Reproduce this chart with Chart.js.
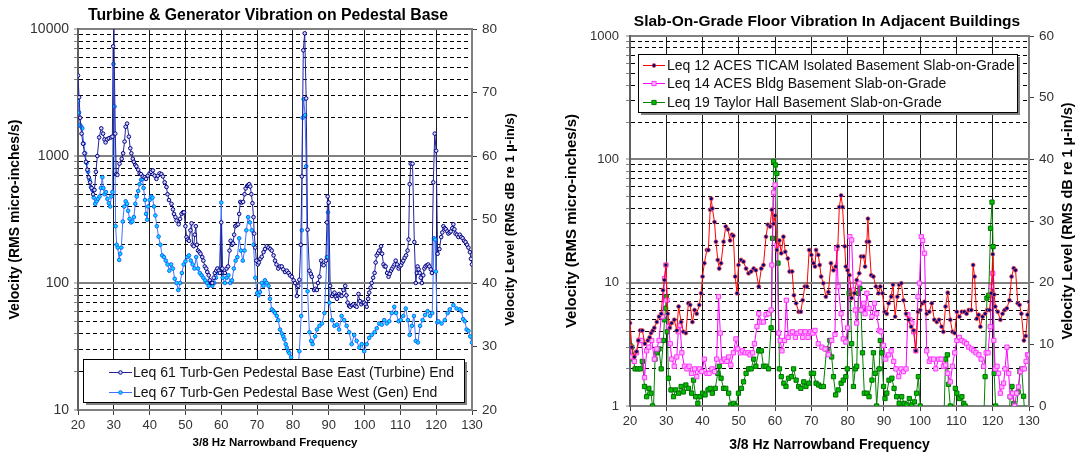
<!DOCTYPE html>
<html lang="en">
<head>
  <meta charset="UTF-8">
  <title>Pedestal and Slab Vibration Spectra</title>
  <script src="https://cdn.jsdelivr.net/npm/chart.js@4.4.1/dist/chart.umd.min.js"></script>
  <style>
    html, body { margin: 0; padding: 0; background: #fff; }
    #wrap { position: relative; width: 1075px; height: 452px; overflow: hidden; }
    canvas { position: absolute; top: 0; }
    #leftChart { left: 0; }
    #rightChart { left: 537px; }
  </style>
</head>
<body>
  <div id="wrap">
    <canvas id="leftChart" width="537" height="452"></canvas>
    <canvas id="rightChart" width="538" height="452"></canvas>
  </div>
<script>
// tick values
const freqTicks = [20, 30, 40, 50, 60, 70, 80, 90, 100, 110, 120, 130];
const leftDbTicks = [20, 30, 40, 50, 60, 70, 80];
const rightDbTicks = [0, 10, 20, 30, 40, 50, 60];

// [frequency Hz, velocity micro-in/s]
const east = [
  [20.0, 4300], [20.3, 2900], [20.6, 2000], [21.0, 1500], [21.4, 1250], [21.8, 1050], [22.2, 900], [22.6, 780],
  [23.0, 680], [23.4, 620], [23.8, 560], [24.2, 500], [24.6, 540], [25.0, 750], [25.4, 1000], [25.9, 1400],
  [26.5, 1650], [27.0, 1500], [27.4, 1350], [27.7, 1280], [28.1, 1350], [28.6, 1380], [29.2, 1400], [29.6, 1420],
  [29.8, 7300], [30.0, 11000], [30.4, 1500], [30.7, 720], [31.0, 710], [31.6, 870], [32.2, 950], [32.6, 1050],
  [33.0, 1300], [33.3, 1700], [33.7, 1800], [34.2, 1420], [34.6, 1150], [34.9, 1050], [35.3, 950], [35.6, 900],
  [36.0, 850], [36.3, 830], [36.8, 780], [37.2, 730], [37.6, 720], [38.1, 690], [38.6, 680], [39.0, 660],
  [39.5, 700], [40.0, 730], [40.4, 750], [40.9, 770], [41.4, 700], [41.9, 660], [42.3, 700], [42.8, 730],
  [43.3, 720], [43.7, 690], [44.2, 620], [44.7, 570], [45.0, 500], [45.4, 450], [46.1, 420], [46.5, 380],
  [46.8, 350], [47.2, 330], [47.5, 310], [48.1, 290], [48.5, 320], [48.9, 350], [49.3, 360], [49.6, 360],
  [50.0, 280], [50.3, 230], [50.6, 220], [51.0, 215], [51.4, 260], [51.7, 295], [52.0, 200], [52.3, 195],
  [52.6, 240], [52.9, 280], [53.2, 200], [53.5, 180], [53.9, 175], [54.2, 170], [54.7, 160], [55.0, 150],
  [55.4, 135], [55.8, 130], [56.1, 122], [56.5, 115], [56.8, 105], [57.2, 100], [57.5, 100], [57.9, 110],
  [58.2, 120], [58.6, 125], [58.9, 130], [59.3, 125], [59.6, 120], [60.0, 300], [60.3, 130], [60.6, 120],
  [61.0, 120], [61.5, 130], [61.9, 135], [62.3, 180], [62.6, 215], [63.0, 200], [63.3, 205], [63.6, 240],
  [63.9, 280], [64.3, 285], [64.7, 290], [65.0, 350], [65.3, 435], [65.7, 430], [66.1, 435], [66.5, 500],
  [66.8, 555], [67.2, 580], [67.5, 590], [67.8, 600], [68.1, 575], [68.4, 500], [68.7, 425], [69.0, 330],
  [69.2, 245], [69.5, 190], [69.8, 150], [70.2, 140], [70.5, 145], [70.9, 155], [71.3, 161], [71.8, 175],
  [72.2, 185], [72.7, 195], [73.2, 190], [73.7, 185], [74.1, 180], [74.6, 165], [75.0, 150], [75.4, 140],
  [75.9, 130], [76.4, 135], [76.9, 135], [77.3, 128], [77.8, 122], [78.3, 125], [78.8, 120], [79.2, 115],
  [79.7, 112], [80.2, 105], [80.6, 100], [81.1, 79], [81.5, 95], [81.8, 106], [82.2, 200], [82.5, 690],
  [82.9, 6800], [83.3, 9250], [83.7, 2840], [84.1, 263], [84.6, 125], [85.0, 118], [85.3, 112], [85.9, 88],
  [86.3, 90], [86.7, 88], [87.0, 100], [87.4, 112], [87.9, 150], [88.2, 140], [88.6, 138], [89.2, 150],
  [89.5, 300], [89.7, 480], [90.0, 430], [90.4, 95], [90.9, 79], [91.2, 82], [91.6, 84], [92.0, 78],
  [92.3, 75], [92.6, 80], [92.9, 82], [93.3, 80], [93.6, 79], [94.1, 88], [94.6, 95], [94.9, 80],
  [95.3, 70], [95.7, 66], [96.0, 65], [96.5, 67], [96.9, 68], [97.4, 66], [97.8, 65], [98.3, 82],
  [98.7, 72], [99.1, 68], [99.5, 70], [99.9, 70], [100.3, 68], [100.6, 65], [101.0, 75], [101.3, 84],
  [101.7, 92], [102.0, 100], [102.4, 110], [102.8, 120], [103.1, 145], [103.4, 165], [103.8, 172], [104.1, 180],
  [104.6, 195], [104.9, 170], [105.3, 140], [105.6, 135], [105.9, 135], [106.3, 120], [106.7, 112], [107.0, 118],
  [107.4, 125], [107.7, 130], [108.1, 135], [108.4, 140], [108.7, 150], [109.1, 140], [109.5, 130], [109.8, 135],
  [110.2, 138], [110.5, 145], [110.8, 150], [111.2, 158], [111.6, 165], [112.0, 180], [112.3, 220], [112.6, 600],
  [112.9, 870], [113.4, 870], [113.9, 210], [114.3, 100], [114.6, 120], [114.8, 135], [115.1, 128], [115.4, 120],
  [115.7, 110], [116.0, 100], [116.4, 115], [116.7, 130], [117.0, 135], [117.4, 138], [117.8, 140], [118.1, 135],
  [118.5, 128], [118.8, 120], [119.2, 620], [119.6, 1500], [120.0, 1100], [120.4, 170], [120.9, 185], [121.4, 230],
  [121.7, 250], [122.0, 280], [122.4, 270], [122.7, 265], [123.1, 255], [123.4, 245], [123.8, 250], [124.1, 255],
  [124.5, 270], [124.8, 290], [125.1, 265], [125.4, 245], [125.8, 240], [126.2, 230], [126.6, 240], [127.0, 230],
  [127.4, 225], [127.8, 215], [128.2, 210], [128.6, 200], [129.0, 190], [129.4, 175], [129.7, 155], [130.0, 140]
];

const west = [
  [20.0, 2700], [20.3, 2200], [20.6, 1750], [20.9, 1700], [21.2, 1650], [21.6, 1250], [22.0, 1050], [22.4, 880],
  [22.8, 750], [23.2, 650], [23.6, 570], [24.0, 540], [24.4, 470], [24.8, 420], [25.2, 440], [25.6, 460],
  [26.0, 480], [26.4, 560], [26.8, 680], [27.1, 560], [27.4, 500], [27.8, 520], [28.2, 460], [28.6, 425],
  [29.0, 400], [29.3, 480], [29.6, 520], [29.9, 5300], [30.2, 2450], [30.5, 280], [30.8, 200], [31.1, 190],
  [31.5, 152], [31.8, 170], [32.1, 190], [32.5, 305], [32.9, 400], [33.3, 440], [33.7, 420], [34.0, 370],
  [34.4, 320], [34.8, 300], [35.2, 305], [35.6, 330], [36.0, 420], [36.4, 480], [36.8, 530], [37.2, 600],
  [37.6, 650], [38.0, 660], [38.3, 560], [38.7, 450], [39.0, 350], [39.3, 315], [39.6, 400], [40.0, 450],
  [40.4, 480], [40.8, 470], [41.2, 400], [41.6, 340], [42.0, 280], [42.5, 232], [43.0, 200], [43.5, 165],
  [44.0, 160], [44.5, 150], [45.0, 140], [45.5, 125], [46.0, 140], [46.5, 130], [47.0, 108], [47.5, 100],
  [48.0, 88], [48.5, 100], [49.0, 120], [49.5, 140], [50.0, 148], [50.5, 160], [51.0, 165], [51.5, 150],
  [52.0, 140], [52.5, 130], [53.0, 160], [53.5, 130], [54.0, 120], [54.5, 115], [55.0, 110], [55.5, 105],
  [56.0, 100], [56.5, 95], [57.0, 100], [57.5, 95], [58.0, 100], [58.5, 110], [59.0, 120], [59.5, 130],
  [60.0, 430], [60.4, 110], [61.0, 100], [61.5, 110], [62.0, 115], [62.5, 100], [63.0, 105], [63.5, 130],
  [64.0, 150], [64.5, 160], [65.0, 225], [65.5, 180], [66.0, 150], [66.5, 180], [67.0, 260], [67.5, 330],
  [68.0, 300], [68.5, 260], [69.0, 200], [69.5, 110], [70.0, 83], [70.4, 80], [70.8, 85], [71.3, 100],
  [71.8, 95], [72.2, 105], [72.7, 100], [73.2, 95], [73.6, 75], [74.1, 62], [74.6, 60], [75.0, 58],
  [75.5, 55], [75.9, 51], [76.4, 43], [76.9, 40], [77.3, 38], [77.6, 36], [78.0, 33], [78.3, 31],
  [78.7, 29], [79.0, 28], [79.5, 26], [80.0, 22], [80.5, 19], [81.0, 18], [81.5, 22], [81.8, 29],
  [82.3, 55], [82.5, 260], [82.7, 2000], [83.0, 2800], [83.4, 2100], [83.7, 830], [84.1, 86], [84.6, 41],
  [85.1, 35], [85.5, 33], [86.2, 38], [86.7, 43], [87.4, 46], [88.1, 48], [88.8, 58], [89.5, 160],
  [89.8, 360], [90.2, 70], [90.9, 51], [91.6, 46], [92.3, 47], [92.9, 43], [93.6, 55], [94.3, 51],
  [95.0, 46], [95.7, 41], [96.4, 33], [97.1, 39], [97.8, 35], [98.5, 31], [99.2, 33], [99.9, 29],
  [100.6, 33], [101.3, 37], [102.0, 39], [102.8, 41], [103.4, 44], [104.1, 48], [104.8, 47], [105.5, 51],
  [106.2, 48], [106.9, 50], [107.6, 58], [108.3, 65], [108.8, 58], [109.5, 50], [110.1, 51], [110.8, 55],
  [111.5, 63], [112.1, 51], [112.6, 39], [113.2, 46], [113.8, 55], [114.3, 35], [114.9, 34], [115.5, 46],
  [116.2, 51], [116.9, 56], [117.6, 60], [118.3, 55], [118.9, 58], [119.4, 225], [119.7, 220], [119.9, 123],
  [120.3, 49], [120.6, 50], [121.5, 48], [122.4, 51], [123.2, 58], [123.8, 62], [124.8, 67], [125.7, 63],
  [126.6, 62], [127.1, 60], [127.5, 52], [128.0, 50], [128.5, 43], [129.0, 42], [129.5, 38], [130.0, 34]
];

const ticam = [
  [20.0, 4.7], [20.5, 3.0], [21.2, 2.5], [21.8, 2.76], [22.3, 3.4], [22.8, 4.1], [23.4, 4.1], [24.1, 3.2],
  [24.9, 3.4], [25.4, 3.6], [25.8, 3.9], [26.3, 4.1], [26.7, 4.3], [27.4, 4.8], [28.0, 5.3], [28.6, 5.6],
  [29.1, 8.7], [29.5, 10.5], [29.9, 13.9], [30.4, 5.6], [31.0, 4.3], [31.5, 4.7], [32.2, 5.0], [32.9, 4.1],
  [33.4, 6.4], [34.1, 4.8], [34.7, 4.0], [35.4, 3.9], [36.1, 6.8], [36.6, 6.6], [37.2, 4.8], [37.8, 6.0],
  [38.4, 5.6], [39.1, 6.6], [39.6, 8.2], [40.0, 11.2], [40.5, 14.4], [41.2, 18.4], [41.6, 18.4], [42.1, 39],
  [42.4, 48], [42.7, 40], [43.3, 31], [43.7, 21.5], [44.2, 15.3], [44.6, 13.0], [45.1, 14.4], [45.8, 21.5],
  [46.4, 28.5], [47.0, 27], [47.6, 22], [48.1, 24.5], [48.5, 24], [49.0, 11.2], [49.5, 8.2], [49.9, 13.9],
  [50.6, 15.3], [51.3, 14.8], [52.0, 13.0], [52.7, 11.9], [53.4, 12.3], [54.1, 13.0], [54.7, 12.6], [55.5, 9.3],
  [56.2, 13.0], [56.8, 13.9], [57.5, 23.6], [58.0, 29.5], [58.6, 28.5], [59.1, 39], [59.6, 30], [60.0, 35],
  [60.5, 18.4], [61.2, 22], [61.7, 17.3], [62.3, 23.6], [62.8, 17.8], [63.5, 15.7], [64.0, 12.3], [64.7, 12.3],
  [65.2, 7.9], [65.8, 6.8], [66.5, 5.8], [67.1, 5.8], [67.6, 7.2], [68.2, 9.3], [68.8, 9.3], [69.4, 18.4],
  [70.0, 16.8], [70.6, 14.4], [71.0, 13.5], [71.3, 18.4], [71.9, 16.8], [72.3, 13.9], [72.7, 11.2], [73.3, 9.9],
  [74.0, 7.7], [74.7, 8.4], [75.4, 14.4], [76.1, 12.6], [76.7, 13.5], [77.3, 19.7], [77.7, 41], [78.2, 51],
  [78.6, 41], [79.2, 19.7], [79.5, 13.5], [80.0, 12.6], [80.5, 11.5], [81.1, 7.5], [81.9, 8.2], [82.5, 10.5],
  [83.2, 11.9], [83.7, 16.3], [84.4, 16.3], [84.8, 13.5], [85.3, 21.5], [85.6, 33], [85.9, 21.5], [86.5, 11.5],
  [87.1, 11.2], [87.8, 9.3], [88.5, 8.2], [89.0, 9.3], [89.6, 8.2], [90.2, 5.8], [90.8, 5.6], [91.3, 6.8],
  [92.0, 7.7], [92.5, 9.6], [93.1, 5.3], [93.7, 7.7], [94.2, 9.6], [94.8, 9.9], [95.4, 7.2], [96.1, 5.6],
  [96.8, 5.0], [97.5, 4.4], [98.2, 4.1], [98.8, 2.8], [99.4, 5.8], [100.0, 6.0], [100.6, 6.8], [101.2, 7.0],
  [101.8, 5.6], [102.5, 5.8], [103.2, 6.8], [103.9, 5.0], [104.6, 4.8], [105.2, 5.0], [105.9, 4.4], [106.4, 4.0],
  [107.0, 6.4], [107.6, 8.3], [108.3, 5.0], [108.9, 4.0], [109.5, 3.9], [110.1, 5.8], [110.8, 5.3], [111.5, 5.8],
  [112.2, 5.8], [112.8, 5.6], [113.4, 6.0], [114.1, 6.0], [114.6, 13.9], [115.0, 11.2], [115.6, 5.1], [116.1, 5.5],
  [116.6, 4.4], [117.2, 5.3], [117.9, 5.6], [118.5, 6.0], [119.1, 6.0], [119.6, 8.2], [120.0, 17], [120.4, 8.0],
  [120.7, 6.4], [121.4, 5.8], [122.1, 5.0], [122.7, 5.6], [123.3, 6.0], [123.9, 6.2], [124.6, 7.2], [125.2, 11.2],
  [125.8, 13.1], [126.3, 12.6], [126.9, 6.8], [127.4, 6.6], [127.9, 5.6], [128.6, 3.4], [129.1, 3.7], [129.6, 5.5],
  [130.0, 7.0]
];

const acesBldg = [
  [20.0, 3.0], [20.5, 2.5], [21.2, 2.3], [21.8, 2.7], [22.5, 3.4], [23.2, 3.4], [24.0, 1.7], [24.6, 2.8],
  [25.2, 3.0], [26.0, 3.4], [26.7, 2.4], [27.4, 2.9], [28.0, 3.4], [28.6, 5.3], [29.0, 5.3], [29.5, 10.8],
  [29.9, 13.9], [30.2, 7.2], [30.6, 4.4], [31.1, 3.2], [31.5, 2.4], [32.2, 2.1], [32.9, 2.5], [33.3, 4.0],
  [33.8, 4.5], [34.3, 2.7], [35.0, 2.1], [35.7, 2.0], [36.3, 2.1], [37.0, 1.84], [37.8, 2.0], [38.4, 1.73],
  [39.1, 2.0], [39.8, 1.9], [40.5, 2.4], [41.2, 1.84], [41.8, 1.84], [42.6, 2.0], [43.3, 1.9], [43.9, 2.4],
  [44.4, 7.7], [44.9, 3.9], [45.3, 2.3], [46.0, 2.4], [46.7, 2.3], [47.2, 2.5], [47.8, 2.15], [48.5, 2.7],
  [49.2, 3.5], [49.7, 2.9], [50.4, 2.7], [51.0, 2.8], [51.8, 2.7], [52.5, 2.7], [53.1, 2.6], [53.8, 2.7],
  [54.3, 3.2], [55.0, 4.4], [55.5, 5.6], [56.2, 4.8], [56.8, 4.8], [57.5, 5.5], [58.2, 5.6], [58.9, 6.0],
  [59.1, 13.9], [59.6, 54], [60.0, 62], [60.5, 20], [61.0, 3.9], [61.4, 3.4], [61.9, 2.8], [62.6, 3.4],
  [63.1, 7.2], [63.6, 3.6], [64.2, 3.9], [64.8, 4.0], [65.6, 3.6], [66.3, 3.9], [67.0, 4.0], [67.6, 3.6],
  [68.3, 4.0], [69.1, 3.6], [69.7, 4.0], [70.4, 3.9], [71.0, 4.1], [71.9, 3.2], [72.9, 3.0], [73.8, 2.9],
  [74.7, 2.6], [75.6, 3.4], [76.5, 3.8], [77.0, 19], [77.4, 9.3], [78.2, 5.6], [78.8, 3.5], [79.5, 3.3],
  [80.0, 4.3], [80.6, 23.6], [81.1, 22.2], [81.6, 8.7], [82.1, 6.0], [82.5, 4.7], [83.2, 9.9], [83.7, 6.0],
  [84.4, 6.8], [84.8, 5.6], [85.3, 8.2], [85.9, 6.2], [86.7, 5.3], [87.4, 6.8], [88.0, 5.6], [88.7, 4.1],
  [89.2, 4.0], [89.9, 3.1], [90.5, 2.4], [91.3, 2.6], [92.0, 2.8], [92.7, 2.3], [93.3, 2.0], [94.1, 1.73],
  [94.7, 2.0], [95.4, 1.9], [96.1, 2.0], [96.6, 5.5], [97.2, 5.0], [97.7, 4.7], [98.2, 4.0], [98.8, 2.8],
  [99.4, 7.7], [99.8, 9.9], [100.3, 23.6], [100.7, 22], [101.2, 17.3], [101.8, 2.8], [102.5, 2.3], [103.0, 2.4],
  [103.7, 2.4], [104.3, 2.0], [105.1, 2.4], [105.8, 2.4], [106.4, 2.1], [107.0, 2.15], [107.6, 1.84], [108.3, 1.57],
  [108.9, 2.1], [109.5, 2.7], [110.1, 3.4], [110.8, 3.6], [111.5, 3.4], [112.2, 3.3], [112.8, 3.2], [113.4, 3.0],
  [114.2, 2.9], [114.8, 2.8], [115.4, 2.7], [116.2, 2.6], [116.8, 2.4], [117.5, 2.1], [118.2, 2.7], [118.7, 2.7],
  [119.3, 4.4], [119.6, 9.3], [120.0, 11.9], [120.3, 3.4], [120.7, 2.0], [121.2, 2.1], [121.6, 1.84], [122.1, 1.27],
  [122.5, 1.43], [123.0, 1.53], [123.4, 2.0], [123.9, 3.0], [124.4, 1.84], [124.8, 1.19], [125.5, 1.27], [126.0, 1.0],
  [126.6, 1.27], [127.1, 1.43], [127.6, 1.9], [128.2, 2.0], [128.7, 2.0], [129.2, 2.3], [129.6, 2.6], [130.0, 2.6]
];

// values under 1 fall below the plot floor
const taylor = [
  [20.0, 3.1], [20.5, 3.0], [20.9, 2.4], [21.4, 2.0], [22.1, 2.0], [22.8, 2.0], [23.4, 2.3], [24.0, 1.44],
  [24.6, 1.19], [25.2, 1.39], [25.8, 1.27], [26.2, 1.0], [26.4, 0.8], [26.9, 2.4], [27.4, 2.7], [28.0, 2.9],
  [28.6, 2.0], [29.2, 3.4], [29.5, 5.0], [29.8, 6.2], [30.0, 7.7], [30.3, 4.0], [30.6, 1.68], [31.3, 1.35],
  [32.0, 1.19], [32.6, 1.35], [33.4, 1.27], [34.1, 1.44], [34.7, 1.3], [35.4, 1.48], [36.1, 1.39], [37.0, 1.27],
  [37.5, 1.62], [38.1, 1.19], [38.7, 1.05], [39.3, 1.19], [40.0, 1.27], [40.7, 1.23], [41.5, 1.35], [42.1, 1.39],
  [42.7, 1.27], [43.5, 1.39], [44.2, 1.84], [44.6, 2.1], [45.1, 1.68], [45.8, 1.39], [46.4, 1.39], [47.2, 1.27],
  [47.8, 1.02], [48.5, 1.05], [49.2, 1.0], [49.9, 1.27], [50.7, 1.39], [51.3, 1.57], [52.0, 1.84], [52.7, 2.0],
  [53.4, 2.0], [54.1, 2.4], [54.7, 2.1], [55.5, 2.8], [56.2, 2.8], [56.8, 2.1], [57.5, 2.1], [58.2, 2.0],
  [58.9, 4.3], [59.3, 22.9], [59.6, 96], [60.1, 90], [60.5, 77], [60.8, 14.4], [61.2, 2.0], [61.7, 1.73],
  [62.4, 1.53], [63.0, 1.44], [63.7, 1.68], [64.5, 1.73], [65.1, 2.0], [65.8, 1.62], [66.5, 1.44], [67.1, 1.39],
  [67.9, 1.57], [68.5, 1.44], [69.3, 1.53], [70.0, 1.84], [70.6, 1.84], [71.3, 1.53], [72.0, 1.48], [72.7, 1.44],
  [73.3, 1.44], [74.2, 2.9], [75.1, 3.4], [75.6, 2.5], [76.1, 1.73], [76.7, 1.23], [77.4, 1.35], [78.2, 1.53],
  [78.8, 1.62], [79.5, 1.73], [79.9, 2.0], [80.4, 8.2], [80.7, 8.5], [81.1, 3.2], [81.6, 1.44], [82.1, 2.0],
  [82.5, 2.1], [83.0, 8.2], [83.4, 9.0], [83.7, 6.0], [84.1, 2.7], [84.6, 1.27], [85.3, 1.27], [85.9, 1.19],
  [86.7, 1.62], [87.1, 2.7], [87.6, 1.84], [88.0, 1.0], [88.7, 2.0], [89.0, 3.4], [89.4, 2.7], [89.9, 1.44],
  [90.3, 1.15], [90.8, 1.27], [91.4, 1.62], [92.2, 1.68], [92.8, 1.39], [93.5, 1.19], [94.2, 1.05], [94.9, 1.19],
  [95.6, 1.05], [96.3, 1.02], [97.0, 1.15], [97.7, 1.02], [98.4, 1.08], [99.0, 1.27], [99.5, 1.73], [100.0, 1.0],
  [100.5, 0.7], [106.5, 0.7], [107.0, 2.4], [107.5, 2.6], [107.8, 1.5], [108.3, 1.0], [108.8, 0.7], [109.7, 1.39],
  [110.1, 1.27], [110.8, 1.15], [111.5, 1.19], [112.0, 1.05], [112.4, 1.0], [112.8, 0.7], [117.5, 0.7], [117.9, 1.73],
  [118.4, 7.5], [118.9, 7.9], [119.4, 27.6], [119.8, 45], [120.1, 19.6], [120.4, 1.84], [120.8, 1.0], [121.2, 0.7],
  [124.5, 0.7], [124.8, 1.19], [125.3, 1.44], [125.8, 1.05], [126.3, 0.8], [127.0, 1.3], [127.5, 1.9], [128.0, 2.0],
  [128.5, 1.2], [129.0, 0.7], [130.0, 0.7]
];

const FONT = '"Liberation Sans", Arial, sans-serif';
Chart.defaults.font.family = FONT;
Chart.defaults.color = '#333';

function toXY(pairs) {
  return pairs.map(p => ({ x: p[0], y: p[1] }));
}

function isDecade(v) {
  const l = Math.log10(v);
  return Math.abs(l - Math.round(l)) < 1e-6;
}

function logTicks(lo, hi) {
  const t = [];
  for (let e = lo; e < hi; e++) {
    for (let m = 1; m < 10; m++) t.push({ value: m * Math.pow(10, e) });
  }
  t.push({ value: Math.pow(10, hi) });
  return t;
}

// titles, the right-hand axis caption and the boxed legend
const overlay = {
  id: 'overlay',
  afterDraw(chart, args, o) {
    const ctx = chart.ctx;
    const a = chart.chartArea;
    ctx.save();
    ctx.fillStyle = '#000';
    ctx.textAlign = 'center';
    ctx.textBaseline = 'middle';
    ctx.font = 'bold ' + o.titleSize + 'px ' + FONT;
    ctx.fillText(o.title, o.titleX, o.titleY);

    ctx.save();
    ctx.translate(o.dbTitleX, (a.top + a.bottom) / 2);
    ctx.rotate(-Math.PI / 2);
    ctx.font = 'bold ' + o.dbTitleSize + 'px ' + FONT;
    ctx.fillText('Velocity Level (RMS dB re 1 \u00b5-in/s)', 0, 0);
    ctx.restore();

    const b = o.legend;
    ctx.fillStyle = '#808080';
    ctx.fillRect(b.x + 3, b.y + 3, b.w, b.h);
    ctx.fillStyle = '#fff';
    ctx.fillRect(b.x, b.y, b.w, b.h);
    ctx.strokeStyle = '#000';
    ctx.lineWidth = 1;
    ctx.strokeRect(b.x + 0.5, b.y + 0.5, b.w, b.h);
    ctx.font = '14px ' + FONT;
    ctx.textAlign = 'left';
    chart.data.datasets.forEach((d, i) => {
      const y = Math.round(b.y + b.rowY + i * b.rowH);
      const x0 = b.x + b.lineX0, x1 = b.x + b.lineX1;
      ctx.strokeStyle = d.borderColor;
      ctx.lineWidth = 1;
      ctx.beginPath();
      ctx.moveTo(x0, y + 0.5);
      ctx.lineTo(x1, y + 0.5);
      ctx.stroke();
      ctx.fillStyle = d.pointBackgroundColor;
      ctx.strokeStyle = d.pointBorderColor;
      ctx.lineWidth = d.pointBorderWidth;
      Chart.helpers.drawPoint(ctx, { pointStyle: d.pointStyle, radius: d.pointRadius, borderWidth: d.pointBorderWidth, rotation: 0 }, (x0 + x1) / 2, y + 0.5);
      ctx.fillStyle = '#111';
      ctx.fillText(d.label, b.x + b.textX, y + 1);
    });
    ctx.restore();
  }
};

function scalesFor(p) {
  return {
    x: {
      type: 'linear', min: 20, max: 130,
      afterBuildTicks: s => { s.ticks = freqTicks.map(v => ({ value: v })); },
      afterFit: s => { s.height = p.xHeight; },
      ticks: { autoSkip: false, maxRotation: 0, font: { size: 13 }, padding: 3, color: '#333' },
      grid: { color: '#1c1c1c', lineWidth: 1, tickLength: 5, tickColor: '#404040' },
      border: { color: '#808080', width: 2 },
      title: {
        display: true, text: '3/8 Hz Narrowband Frequency', color: '#000',
        font: { size: p.xTitleSize, weight: 'bold', lineHeight: 1 },
        padding: { top: 0, bottom: p.xTitlePad }
      }
    },
    y: {
      type: 'logarithmic', min: p.vMin, max: p.vMax,
      afterBuildTicks: s => { s.ticks = logTicks(p.eMin, p.eMax); },
      afterFit: s => { s.width = p.yWidth; },
      ticks: {
        autoSkip: false, font: { size: p.yTickSize }, padding: p.yTickPad, color: '#333',
        callback: v => isDecade(v) ? String(Math.round(v)) : ''
      },
      grid: {
        color: c => (c.tick && isDecade(c.tick.value)) ? '#808080' : '#000',
        lineWidth: c => (c.tick && isDecade(c.tick.value)) ? 2 : 1,
        tickLength: 4, tickColor: '#808080', tickWidth: 1
      },
      border: {
        color: '#606060', width: 2,
        dash: c => (c.tick && !isDecade(c.tick.value)) ? [4, 3] : []
      },
      title: {
        display: true, text: 'Velocity (RMS micro-inches/s)', color: '#000',
        font: { size: p.yTitleSize, weight: 'bold' },
        padding: { top: p.yTitlePad, bottom: 0 }
      }
    },
    y2: {
      type: 'linear', position: 'right', min: p.dbTicks[0], max: p.dbTicks[p.dbTicks.length - 1],
      afterBuildTicks: s => { s.ticks = p.dbTicks.map(v => ({ value: v })); },
      afterFit: s => { s.width = p.y2Width; },
      ticks: { autoSkip: false, font: { size: 13.5 }, padding: 5, color: '#333' },
      grid: { drawOnChartArea: false, tickLength: 5, tickColor: '#404040' },
      border: { color: '#808080', width: 2 }
    }
  };
}

function baseOptions(p, overlayOpts) {
  return {
    responsive: false,
    animation: false,
    devicePixelRatio: 1,
    layout: { padding: { top: p.top, left: 0, right: 0, bottom: 0 } },
    scales: scalesFor(p),
    elements: { line: { tension: 0 } },
    plugins: { legend: { display: false }, tooltip: { enabled: false }, overlay: overlayOpts }
  };
}

new Chart(document.getElementById('leftChart'), {
  type: 'line',
  data: {
    datasets: [{
      label: 'Leq 61 Turb-Gen Pedestal Base East (Turbine) End',
      data: toXY(east),
      borderColor: '#23239b', borderWidth: 1,
      pointStyle: 'circle', pointRadius: 1.8, pointBorderWidth: 1,
      pointBackgroundColor: '#d6d6ff', pointBorderColor: '#000080'
    }, {
      label: 'Leq 67 Turb-Gen Pedestal Base West (Gen) End',
      data: toXY(west),
      borderColor: '#3f73ff', borderWidth: 1,
      pointStyle: 'circle', pointRadius: 1.8, pointBorderWidth: 1,
      pointBackgroundColor: '#00e5ff', pointBorderColor: '#1a5cff'
    }]
  },
  options: baseOptions({
    top: 29, xHeight: 42, yWidth: 78, y2Width: 65,
    vMin: 10, vMax: 10000, eMin: 1, eMax: 4, dbTicks: leftDbTicks,
    xTitleSize: 11.5, xTitlePad: 3, yTitleSize: 14, yTitlePad: 7, yTickSize: 14, yTickPad: 5
  }, {
    title: 'Turbine & Generator Vibration on Pedestal Base', titleSize: 15.8, titleX: 268, titleY: 16,
    dbTitleX: 510, dbTitleSize: 13,
    legend: { x: 83, y: 359, w: 381, h: 43, rowY: 13, rowH: 20, lineX0: 26, lineX1: 49, textX: 50 }
  }),
  plugins: [overlay]
});

new Chart(document.getElementById('rightChart'), {
  type: 'line',
  data: {
    datasets: [{
      label: 'Leq 12 ACES TICAM Isolated Basement Slab-on-Grade',
      data: toXY(ticam),
      borderColor: '#ff0000', borderWidth: 1,
      pointStyle: 'circle', pointRadius: 2, pointBorderWidth: 0.8,
      pointBackgroundColor: '#000080', pointBorderColor: '#ff5050'
    }, {
      label: 'Leq 14 ACES Bldg Basement Slab-on-Grade',
      data: toXY(acesBldg),
      borderColor: '#ff00ff', borderWidth: 1,
      pointStyle: 'rect', pointRadius: 3, pointBorderWidth: 1,
      pointBackgroundColor: '#ffb4ff', pointBorderColor: '#ff33ff'
    }, {
      label: 'Leq 19 Taylor Hall Basement Slab-on-Grade',
      data: toXY(taylor),
      borderColor: '#008000', borderWidth: 1,
      pointStyle: 'rect', pointRadius: 3, pointBorderWidth: 1,
      pointBackgroundColor: '#00c000', pointBorderColor: '#007000'
    }]
  },
  options: baseOptions({
    top: 36, xHeight: 46, yWidth: 93, y2Width: 46,
    vMin: 1, vMax: 1000, eMin: 0, eMax: 3, dbTicks: rightDbTicks,
    xTitleSize: 14, xTitlePad: 0, yTitleSize: 15, yTitlePad: 26, yTickSize: 13, yTickPad: 7
  }, {
    title: 'Slab-On-Grade Floor Vibration In Adjacent Buildings', titleSize: 15.5, titleX: 290, titleY: 22,
    dbTitleX: 531, dbTitleSize: 14.5,
    legend: { x: 101, y: 54, w: 379, h: 58, rowY: 11, rowH: 18.4, lineX0: 5, lineX1: 27, textX: 29 }
  }),
  plugins: [overlay]
});
</script>
</body>
</html>
